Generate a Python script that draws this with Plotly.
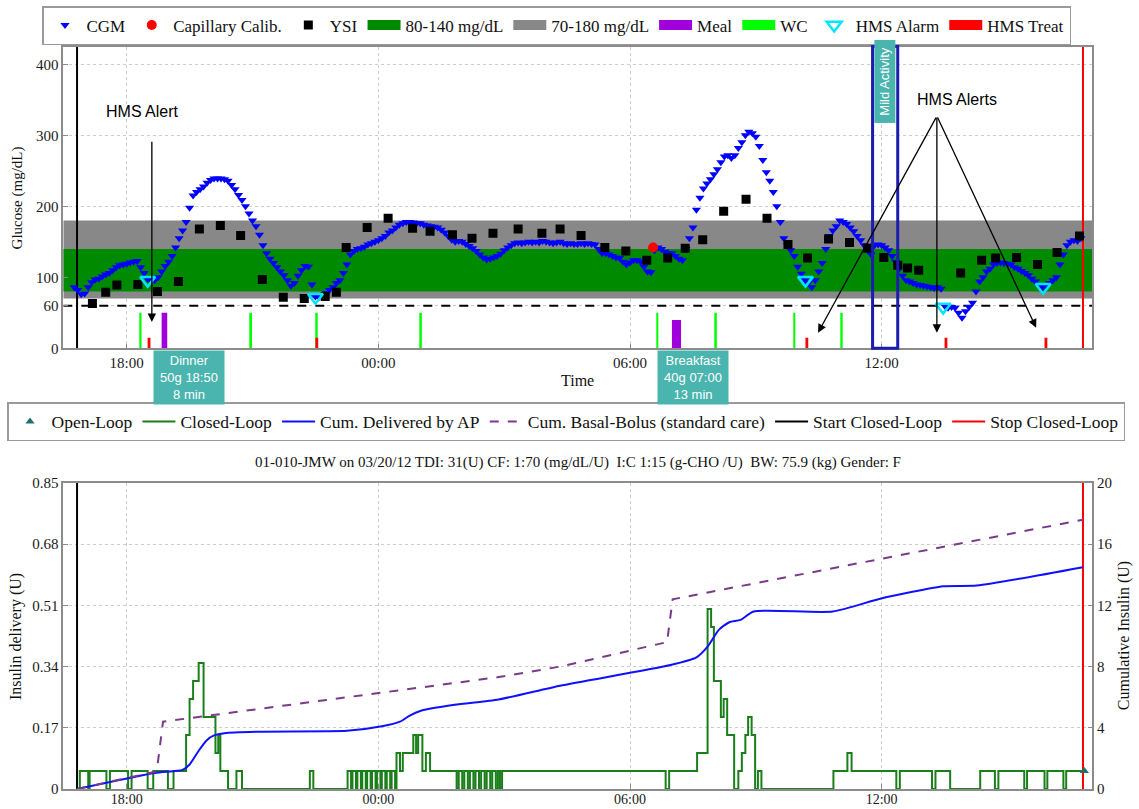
import plotly.graph_objects as go
from datetime import datetime, timedelta

BASE = datetime(2012, 3, 20)


def t(s):
    """'HH:MM' on the first day (16:xx-23:xx) or early next day (00-15h);
    a '+1' suffix forces the next day."""
    nxt = s.endswith('+1')
    s = s.replace('+1', '')
    parts = [int(p) for p in s.split(':')]
    h, m = parts[0], parts[1]
    sec = parts[2] if len(parts) > 2 else 0
    d = BASE + timedelta(hours=h, minutes=m, seconds=sec)
    if h < 16 or nxt:
        d += timedelta(days=1)
    return d


def ts(lst):
    return [t(s) for s in lst]


# ---------------- data ----------------
X_RANGE = ["16:29:20", "17:01:20+1"]
TICK_TIMES = ["18:00", "00:00", "06:00", "12:00"]
TICK_LABELS = ["18:00", "00:00", "06:00", "12:00"]

CGM_START = "16:45"
CGM_STEP_MIN = 5
CGM = [
    86, 82, 76, 77, 86, 93, 97, 98, 101, 104, 106, 110,
    114, 117, 118, 119, 121, 122, 123, 114, 106, 98, 95, 96,
    100, 108, 116, 122, 130, 142, 155, 166, 178, 198, 215, 220,
    224, 228, 233, 237, 239, 239, 239, 238, 236, 230, 224, 216,
    209, 200, 190, 180, 172, 160, 145, 134, 126, 120, 114, 108,
    103, 96, 88, 92, 102, 110, 116, 115, 90, 73, 72, 75,
    78, 82, 86, 92, 96, 106, 118, 132, 137, 140, 141, 143,
    146, 148, 150, 152, 155, 158, 163, 166, 170, 174, 176, 178,
    178, 177, 176, 176, 174, 173, 172, 171, 170, 167, 163, 158,
    153, 150, 151, 150, 147, 144, 141, 137, 132, 128, 125, 126,
    128, 130, 133, 138, 142, 145, 148, 149, 148, 149, 150, 149,
    150, 149, 151, 150, 149, 148, 149, 150, 148, 147, 148, 147,
    147, 148, 147, 148, 147, 146, 140, 134, 134, 132, 130, 128,
    127, 122, 118, 121, 124, 124, 122, 115, 108, 107, 138, 142,
    140, 136, 134, 134, 130, 126, 124, 140, 155, 170, 195, 212,
    225, 232, 238, 245, 252, 262, 270, 272, 268, 272, 282, 290,
    300, 305, 303, 298, 285, 265, 248, 236, 220, 200, 178, 155,
    145, 138, 130, 115, 105, 96, 92, 86, 96, 108, 120, 140,
    158, 166, 172, 180, 178, 175, 170, 165, 158, 152, 145, 138,
    132, 145, 146, 145, 142, 138, 130, 122, 112, 102, 96, 94,
    92, 90, 89, 88, 87, 86, 85, 86, 84, 60, 57, 58,
    57, 50, 43, 52, 58, 64, 80, 94, 100, 108, 112, 118,
    120, 121, 120, 119, 118, 114, 112, 109, 106, 103, 98, 94,
    88, 86, 88, 92, 96, 100, 118, 132, 145, 150, 152, 151,
    155,
]

YSI_T = ["17:11", "17:30", "17:46", "18:16", "18:44", "19:14", "19:44", "20:14",
         "20:43", "21:14", "21:44", "22:14", "22:44", "23:00", "23:14", "23:44",
         "00:14", "00:49", "01:14", "01:46", "02:14", "02:44", "03:20", "03:54",
         "04:20", "04:50", "05:24", "05:54", "06:24", "06:54", "07:19", "07:44",
         "08:14", "08:46", "09:16", "09:46", "10:14", "10:44", "11:14", "11:40",
         "12:03", "12:23", "12:37", "12:53", "13:53", "14:23", "14:43", "15:13",
         "15:43", "16:11+1", "16:43+1"]
YSI_V = [63, 79, 89, 90, 80, 94, 168, 173, 159, 97, 72, 70, 73, 79, 142, 170,
         183, 169, 165, 160, 155, 162, 168, 162, 168, 159, 142, 137, 124, 127, 141, 153,
         193, 210, 183, 146, 127, 154, 149, 141, 128, 117, 113, 110, 106, 124, 127, 128,
         118, 135, 158]

CALIB_T = ["06:33"]
CALIB_V = [142]

ALARM_T = ["18:30", "22:30", "10:11", "13:28", "15:51"]
ALARM_V = [96, 72, 96, 58, 86]

TARGET_LOW, TARGET_HIGH = 80, 140
RANGE_LOW, RANGE_HIGH = 70, 180
HYPO_LINE = 60

MEAL_NAMES = ["Dinner", "Breakfast"]
MEAL_T = ["18:50", "07:00"]
MEAL_G = [50, 40]
MEAL_DUR = [8, 13]
MEAL_LABEL_SHIFT = [-9, -15]

WC_T = ["18:20", "20:58", "22:32", "01:01", "06:39", "08:03", "09:55", "11:03"]
WC_H = 50
TREAT_T = ["18:32", "22:32", "10:13", "13:32", "15:55"]
TREAT_H = 15

ACTIVITY = ("Mild Activity", "11:47", "12:23")

START_CL = "16:49"
STOP_CL = "16:48+1"

# insulin delivery (closed loop), step change points
CL_T = ["16:49", "16:53", "17:05", "17:07", "17:31", "17:36", "18:02", "18:07", "18:30",
        "18:38", "18:59", "19:07", "19:25", "19:30", "19:35", "19:43", "19:50", "20:07",
        "20:11", "20:14", "20:25", "20:37", "20:45", "22:22", "22:27",
        "23:16", "23:21", "23:23", "23:28", "23:30", "23:35", "23:37", "23:42", "23:44",
        "23:49", "23:51", "23:56", "23:58", "00:03", "00:05", "00:10", "00:12", "00:17",
        "00:19", "00:24",
        "00:26", "00:31", "00:35", "00:50", "00:54", "00:57", "01:03", "01:08", "01:14",
        "01:52", "01:55", "02:00", "02:03", "02:08", "02:11", "02:16", "02:19", "02:24",
        "02:27", "02:32", "02:35", "02:40", "02:43", "02:48", "02:51", "02:54", "02:57",
        "06:51", "06:56", "07:36", "07:51", "07:56", "08:00", "08:10", "08:14", "08:19",
        "08:29", "08:35", "08:40", "08:45", "08:49", "08:54", "08:59", "09:03", "09:08",
        "10:51", "11:11", "11:17", "12:21", "12:26", "13:12", "13:17", "13:38", "14:21",
        "14:42", "14:47", "15:24", "15:28", "15:53", "15:57", "16:20+1", "16:24+1",
        "16:48+1"]
CL_V = [0, 0.05, 0, 0.05, 0, 0.05, 0, 0.05, 0,
        0.05, 0, 0.05, 0.15, 0.25, 0.30, 0.35, 0.20, 0.10,
        0.15, 0.05, 0, 0.05, 0, 0.05, 0,
        0.05, 0, 0.05, 0, 0.05, 0, 0.05, 0, 0.05,
        0, 0.05, 0, 0.05, 0, 0.05, 0, 0.05, 0,
        0.05, 0,
        0.10, 0.05, 0.10, 0.15, 0.10, 0.15, 0.05, 0.10, 0.05,
        0, 0.05, 0, 0.05, 0, 0.05, 0, 0.05, 0,
        0.05, 0, 0.05, 0, 0.05, 0, 0.05, 0, 0.05,
        0, 0.05, 0.10, 0.50, 0.45, 0.30, 0.20, 0.25, 0.15,
        0, 0.05, 0.10, 0.15, 0.20, 0.15, 0, 0.05, 0,
        0.05, 0.10, 0.05, 0, 0.05, 0, 0.05, 0, 0.05,
        0, 0.05, 0, 0.05, 0, 0.05, 0, 0.05,
        0.05]

CUM_AP_T = ["16:49", "18:40", "19:20", "19:30", "19:43", "19:55", "20:05", "20:20", "21:15",
            "23:15", "00:05", "00:31", "00:45", "01:00", "01:49", "02:52", "04:20", "06:58",
            "07:35", "07:51", "08:07", "08:22", "08:38", "08:57", "10:50", "11:59", "13:28",
            "14:16", "16:48+1"]
CUM_AP_V = [0, 1.05, 1.25, 1.6, 2.5, 3.2, 3.5, 3.65, 3.75,
            3.8, 4.1, 4.4, 4.8, 5.1, 5.5, 5.85, 6.75, 8.1,
            8.6, 9.3, 10.4, 10.9, 11.05, 11.6, 11.6, 12.45, 13.25,
            13.3, 14.5]

CUM_STD_T = ["16:49", "18:43", "18:52", "02:50", "04:20", "06:53", "07:01", "16:48+1"]
CUM_STD_V = [0, 1.15, 4.4, 7.3, 8.0, 9.6, 12.4, 17.6]

OPEN_LOOP_T = ["16:50+1"]
OPEN_LOOP_V = [0.05]

TITLE2 = ("01-010-JMW on 03/20/12 TDI: 31(U) CF: 1:70 (mg/dL/U)  I:C 1:15 (g-CHO /U)  "
          "BW: 75.9 (kg) Gender: F")

# ---------------- figure ----------------
W, H = 1139, 809
SERIF = "Liberation Serif"
SANS = "Liberation Sans"
TEAL = "#4ab4ae"

xr = ts(X_RANGE)
fig = go.Figure()

top = dict(xaxis="x", yaxis="y", legend="legend")
bot = dict(xaxis="x2", yaxis="y2", legend="legend2")
botr = dict(xaxis="x2", yaxis="y3", legend="legend2")

# bands
fig.add_trace(go.Scatter(x=[xr[0], xr[1], xr[1], xr[0], xr[0]],
                         y=[RANGE_LOW, RANGE_LOW, RANGE_HIGH, RANGE_HIGH, RANGE_LOW],
                         fill="toself", fillcolor="#888888", mode="lines",
                         line=dict(width=0), showlegend=False, hoverinfo="skip", **top))
fig.add_trace(go.Scatter(x=[xr[0], xr[1], xr[1], xr[0], xr[0]],
                         y=[TARGET_LOW, TARGET_LOW, TARGET_HIGH, TARGET_HIGH, TARGET_LOW],
                         fill="toself", fillcolor="#008a00", mode="lines",
                         line=dict(width=0), showlegend=False, hoverinfo="skip", **top))
fig.add_trace(go.Scatter(x=xr, y=[HYPO_LINE, HYPO_LINE], mode="lines",
                         line=dict(color="black", width=2, dash="dash"),
                         showlegend=False, **top))

# meal / wc / treat bars
fig.add_trace(go.Bar(x=ts(MEAL_T), y=MEAL_G, width=[d * 60000 for d in MEAL_DUR], offset=0,
                     marker=dict(color="#a000dc", line=dict(width=0)), showlegend=False, **top))
fig.add_trace(go.Bar(x=ts(WC_T), y=[WC_H] * len(WC_T), width=150000,
                     marker=dict(color="#00ff00", line=dict(width=0)), showlegend=False, **top))
fig.add_trace(go.Bar(x=ts(TREAT_T), y=[TREAT_H] * len(TREAT_T), width=240000,
                     marker=dict(color="#ff0000", line=dict(width=0)), showlegend=False, **top))

# start/stop lines (top)
fig.add_trace(go.Scatter(x=[t(START_CL)] * 2, y=[0, 425], mode="lines",
                         line=dict(color="black", width=2), showlegend=False, **top))
fig.add_trace(go.Scatter(x=[t(STOP_CL)] * 2, y=[0, 425], mode="lines",
                         line=dict(color="red", width=2), showlegend=False, **top))

cgm_t = [t(CGM_START) + timedelta(minutes=CGM_STEP_MIN * i) for i in range(len(CGM))]
fig.add_trace(go.Scatter(x=cgm_t, y=CGM, mode="markers", name="CGM", legendrank=1,
                         marker=dict(symbol="triangle-down", size=8, color="#0000ff",
                                     line=dict(width=0)), **top))
fig.add_trace(go.Scatter(x=ts(YSI_T), y=YSI_V, mode="markers", name="YSI", legendrank=3,
                         marker=dict(symbol="square", size=9, color="black",
                                     line=dict(width=0)), **top))
fig.add_trace(go.Scatter(x=ts(CALIB_T), y=CALIB_V, mode="markers", name="Capillary Calib.",
                         legendrank=2,
                         marker=dict(symbol="circle", size=10, color="#ff0000",
                                     line=dict(width=0)), **top))
fig.add_trace(go.Scatter(x=ts(ALARM_T), y=ALARM_V, mode="markers", name="HMS Alarm",
                         legendrank=8,
                         marker=dict(symbol="triangle-down-open", size=13, color="#00e5ff",
                                     line=dict(width=2.5, color="#00e5ff")), **top))

# legend-only glyphs for area items
for name, col, rank in [("80-140 mg/dL", "#008a00", 4), ("70-180 mg/dL", "#888888", 5),
                        ("Meal", "#a000dc", 6), ("WC", "#00ff00", 7),
                        ("HMS Treat", "#ff0000", 9)]:
    fig.add_trace(go.Scatter(x=[None], y=[None], mode="lines", name=name, legendrank=rank,
                             line=dict(color=col, width=10), **top))

# ---------- bottom ----------
fig.add_trace(go.Scatter(x=ts(CL_T), y=CL_V, mode="lines", line_shape="hv",
                         name="Closed-Loop", legendrank=2,
                         line=dict(color="#1a7f1a", width=2), **bot))
fig.add_trace(go.Scatter(x=ts(CUM_AP_T), y=CUM_AP_V, mode="lines", line_shape="spline",
                         name="Cum. Delivered by AP", legendrank=3,
                         line=dict(color="#1010ff", width=2, smoothing=0.6), **botr))
fig.add_trace(go.Scatter(x=ts(CUM_STD_T), y=CUM_STD_V, mode="lines",
                         name="Cum. Basal-Bolus (standard care)", legendrank=4,
                         line=dict(color="#7a3a8a", width=2, dash="dash"), **botr))
fig.add_trace(go.Scatter(x=[t(START_CL)] * 2, y=[0, 0.85], mode="lines",
                         name="Start Closed-Loop", legendrank=5,
                         line=dict(color="black", width=2), **bot))
fig.add_trace(go.Scatter(x=[t(STOP_CL)] * 2, y=[0, 0.85], mode="lines",
                         name="Stop Closed-Loop", legendrank=6,
                         line=dict(color="red", width=2), **bot))
fig.add_trace(go.Scatter(x=ts(OPEN_LOOP_T), y=OPEN_LOOP_V, mode="markers", name="Open-Loop",
                         legendrank=1,
                         marker=dict(symbol="triangle-up", size=8, color="#1f7070"), **bot))

# ---------- annotations ----------
ann = []
for name, mt, g, dur, sh in zip(MEAL_NAMES, MEAL_T, MEAL_G, MEAL_DUR, MEAL_LABEL_SHIFT):
    ann.append(dict(x=t(mt), y=0, xref="x", yref="y", xanchor="left", yanchor="top",
                    xshift=sh, yshift=-2, showarrow=False,
                    text=f"{name}<br>{g}g {mt}<br>{dur} min", bgcolor=TEAL,
                    width=66, height=49, borderpad=2,
                    font=dict(family=SANS, size=13, color="white")))

act_name, act_a, act_b = ACTIVITY
act_mid = t(act_a) + (t(act_b) - t(act_a)) / 2
ann.append(dict(x=act_mid, y=376, xref="x", yref="y", showarrow=False, textangle=-90,
                text=act_name, bgcolor=TEAL, width=80, height=18, borderpad=1,
                font=dict(family=SANS, size=13, color="white")))

ann.append(dict(x=t("18:23"), y=334, xref="x", yref="y", showarrow=False, text="HMS Alert",
                font=dict(family=SANS, size=16, color="black")))
ann.append(dict(x=t("18:36"), y=37, ax=t("18:36"), ay=293, xref="x", yref="y",
                axref="x", ayref="y", text="", showarrow=True, arrowhead=2, arrowsize=1.3,
                arrowwidth=1.3, arrowcolor="black"))
ann.append(dict(x=t("13:48"), y=350, xref="x", yref="y", showarrow=False, text="HMS Alerts",
                font=dict(family=SANS, size=16, color="black")))
for hx, hy in [("10:29", 22), ("13:19", 22), ("15:41", 29)]:
    ann.append(dict(x=t(hx), y=hy, ax=t("13:19"), ay=327, xref="x", yref="y",
                    axref="x", ayref="y", text="", showarrow=True, arrowhead=2,
                    arrowsize=1.3, arrowwidth=1.3, arrowcolor="black"))

lab = dict(showarrow=False, xanchor="center", yanchor="middle")
ann.append(dict(lab, x=0.5, y=-0.108, xref="x domain", yref="y domain",
                text="Time", font=dict(family=SERIF, size=16, color="#111")))
ann.append(dict(lab, x=-0.045, y=0.5, xref="x domain", yref="y domain",
                text="Glucose (mg/dL)", textangle=-90,
                font=dict(family=SERIF, size=15, color="#111")))
ann.append(dict(lab, x=-0.046, y=0.5, xref="x2 domain", yref="y2 domain",
                text="Insulin delivery (U)", textangle=-90,
                font=dict(family=SERIF, size=16, color="#111")))
ann.append(dict(lab, x=1.031, y=0.5, xref="x2 domain", yref="y2 domain",
                text="Cumulative Insulin (U)", textangle=-90,
                font=dict(family=SERIF, size=16, color="#111")))
ann.append(dict(lab, x=0.5, y=1.068, xref="x2 domain", yref="y2 domain",
                text=TITLE2, font=dict(family=SERIF, size=15, color="#111")))

shapes = [dict(type="rect", xref="x", yref="y domain", x0=t(act_a), x1=t(act_b), y0=0, y1=1,
               line=dict(color="#1c1cb0", width=3), fillcolor="rgba(0,0,0,0)", layer="above")]

axbase = dict(showline=True, linecolor="#8c8c8c", linewidth=1.5, mirror=True, ticks="inside",
              ticklen=5, tickcolor="#8c8c8c", showgrid=True, gridcolor="#cccccc",
              griddash="dot", gridwidth=1, zeroline=False, automargin=False,
              tickfont=dict(family=SERIF, size=15, color="#1a1a1a"))

X_DOM = [63.3 / W, 1092.3 / W]
top_dom = [1 - 348.3 / H, 1 - 46.5 / H]
bot_dom = [1 - 789 / H, 1 - 483 / H]

legbase = dict(orientation="h", xref="paper", yref="paper", xanchor="left",
               yanchor="top", bordercolor="#9a9a9a", borderwidth=1.5, bgcolor="white",
               font=dict(family=SERIF, size=17, color="#111"), itemwidth=33,
               tracegroupgap=0)

fig.update_layout(
    width=W, height=H, margin=dict(l=0, r=0, t=0, b=0, autoexpand=False),
    paper_bgcolor="white", plot_bgcolor="white", barmode="overlay",
    showlegend=True,
    legend=dict(legbase, x=42 / W, y=1 - 6 / H),
    legend2=dict(legbase, x=7 / W, y=1 - 402 / H, font=dict(family=SERIF, size=17.5,
                                                             color="#111")),
    xaxis=dict(axbase, domain=X_DOM, anchor="y", type="date", range=xr,
               tickvals=ts(TICK_TIMES), ticktext=TICK_LABELS),
    yaxis=dict(axbase, domain=top_dom, anchor="x", range=[0, 425],
               tickvals=[0, 60, 100, 200, 300, 400]),
    xaxis2=dict(axbase, domain=X_DOM, anchor="y2", type="date", range=xr,
                tickvals=ts(TICK_TIMES), ticktext=TICK_LABELS, ticklabelstandoff=-4,
                tickfont=dict(family=SERIF, size=14, color="#1a1a1a")),
    yaxis2=dict(axbase, domain=bot_dom, anchor="x2", range=[0, 0.85],
                tickvals=[0, 0.17, 0.34, 0.51, 0.68, 0.85],
                ticktext=["0", "0.17", "0.34", "0.51", "0.68", "0.85"]),
    yaxis3=dict(axbase, overlaying="y2", side="right", anchor="x2", range=[0, 20],
                tickvals=[0, 4, 8, 12, 16, 20], showgrid=False, mirror=False),
    annotations=ann, shapes=shapes,
)

fig.write_html("out.html")
